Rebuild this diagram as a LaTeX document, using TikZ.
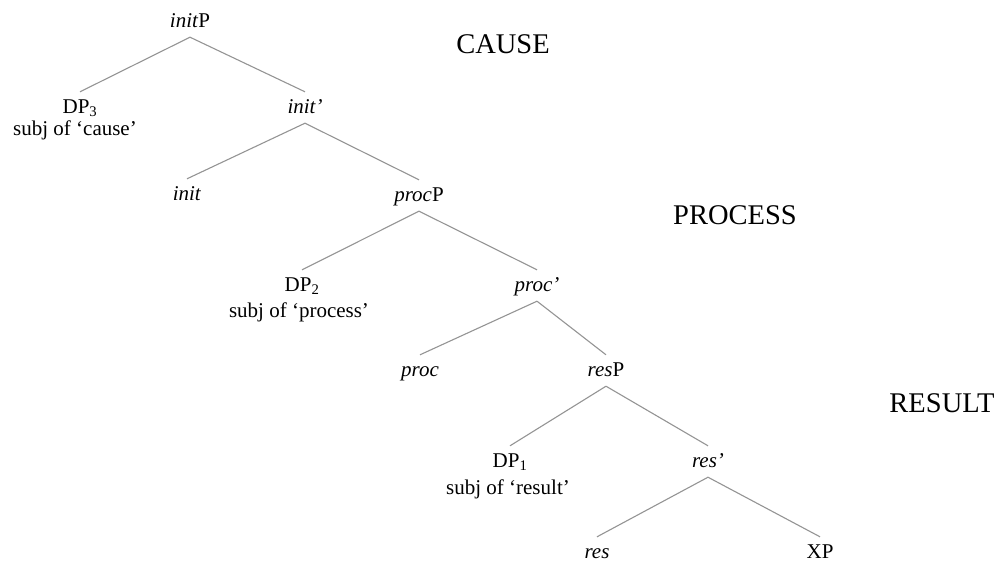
\documentclass[tikz,border=0pt]{standalone}
\usepackage{fontspec}
\setmainfont{Liberation Serif}
\begin{document}
\begin{tikzpicture}[x=1pt,y=-1pt,
  lbl/.style={anchor=base, inner xsep=0pt, inner ysep=7pt, text height=14pt, text depth=3pt,
              font=\fontsize{21}{24}\selectfont},
  note/.style={anchor=base, inner sep=0pt, font=\fontsize{21}{24}\selectfont},
  stage/.style={anchor=base, inner sep=0pt, font=\fontsize{28.5}{32}\selectfont},
  branch/.style={draw=black!42, line width=1.1pt}]
\useasboundingbox (0,0) rectangle (1000,565);

% tree labels (placed on their baselines)
\node[lbl] (initP) at (190,27)  {\textit{init}P};
\node[lbl] (dp3)   at (80,113)  {DP\textsubscript{3}};
\node[note] (s3)   at (75,135)  {subj of ‘cause’};
\node[lbl] (initb) at (305,113) {\textit{init’}};
\node[lbl] (init)  at (187,200) {\textit{init}};
\node[lbl] (procP) at (419,201) {\textit{proc}P};
\node[lbl] (dp2)   at (302,291) {DP\textsubscript{2}};
\node[note] (s2)   at (299,317) {subj of ‘process’};
\node[lbl] (procb) at (537,291) {\textit{proc’}};
\node[lbl] (proc)  at (420,376) {\textit{proc}};
\node[lbl] (resP)  at (606,376) {\textit{res}P};
\node[lbl] (dp1)   at (510,467) {DP\textsubscript{1}};
\node[note] (s1)   at (508,494) {subj of ‘result’};
\node[lbl] (resb)  at (708,467) {\textit{res’}};
\node[lbl] (res)   at (597,558) {\textit{res}};
\node[lbl] (xp)    at (820,558) {XP};

% subevent labels
\node[stage] (cause)   at (503,53)  {CAUSE};
\node[stage] (process) at (735,224) {PROCESS};
\node[stage] (result)  at (942,412) {RESULT};

% branches
\draw[branch] (initP.south) -- (dp3.north);
\draw[branch] (initP.south) -- (initb.north);
\draw[branch] (initb.south) -- (init.north);
\draw[branch] (initb.south) -- (procP.north);
\draw[branch] (procP.south) -- (dp2.north);
\draw[branch] (procP.south) -- (procb.north);
\draw[branch] (procb.south) -- (proc.north);
\draw[branch] (procb.south) -- (resP.north);
\draw[branch] (resP.south) -- (dp1.north);
\draw[branch] (resP.south) -- (resb.north);
\draw[branch] (resb.south) -- (res.north);
\draw[branch] (resb.south) -- (xp.north);
\end{tikzpicture}
\end{document}
